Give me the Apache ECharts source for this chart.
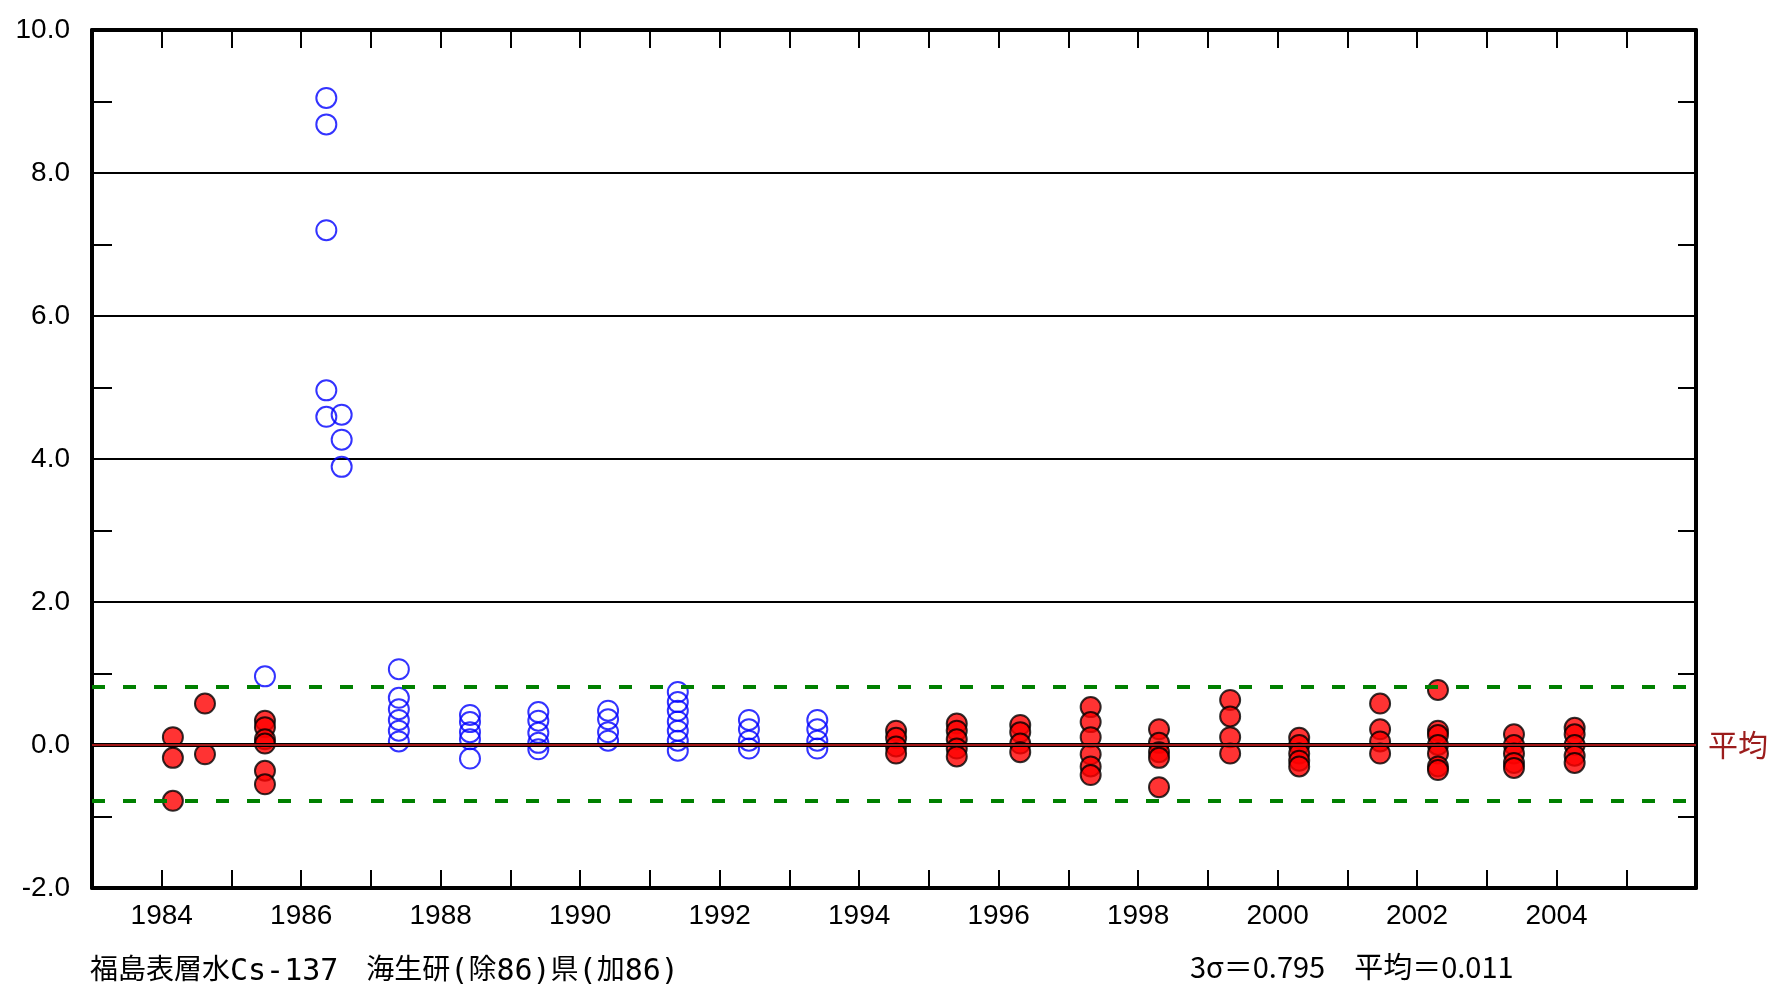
<!doctype html>
<html lang="ja">
<head>
<meta charset="UTF-8">
<title>福島表層水Cs-137</title>
<script src="https://cdn.jsdelivr.net/npm/echarts@6/dist/echarts.min.js"></script>
<style>
  html, body { margin: 0; padding: 0; background: #fff; }
  #chart { width: 1773px; height: 988px; }
</style>
</head>
<body>
<div id="chart"></div>
<script>
// 採取時期 (年) と測定値
var blueDates = [1985.48, 1986.36, 1986.58, 1987.40, 1988.42, 1989.40, 1990.40, 1991.40, 1992.42, 1993.40];
var blueValues = [
    [0.96],
    [9.05, 8.68, 7.20, 4.96, 4.59],
    [4.62, 4.27, 3.89],
    [1.06, 0.66, 0.50, 0.35, 0.20, 0.05],
    [0.42, 0.32, 0.18, 0.08, -0.19],
    [0.46, 0.34, 0.17, 0.03, -0.06],
    [0.48, 0.36, 0.18, 0.06],
    [0.74, 0.60, 0.48, 0.33, 0.20, 0.06, -0.08],
    [0.35, 0.22, 0.06, -0.05],
    [0.35, 0.22, 0.06, -0.05]
];
var redDates = [1984.16, 1984.62, 1985.48, 1994.53, 1995.40, 1996.31, 1997.32, 1998.30, 1999.32,
                2000.31, 2001.47, 2002.30, 2003.39, 2004.26];
var redValues = [
    [0.11, -0.18, -0.78],
    [0.58, -0.13],
    [0.34, 0.25, 0.08, 0.02, -0.36, -0.55],
    [0.20, 0.10, -0.02, -0.12],
    [0.30, 0.20, 0.08, -0.05, -0.16],
    [0.28, 0.18, 0.02, -0.10],
    [0.53, 0.32, 0.11, -0.13, -0.30, -0.42],
    [0.22, 0.03, -0.10, -0.18, -0.59],
    [0.63, 0.40, 0.11, -0.12],
    [0.10, 0.00, -0.12, -0.22, -0.30],
    [0.58, 0.22, 0.05, -0.12],
    [0.77, 0.20, 0.14, 0.00, -0.12, -0.30, -0.35],
    [0.15, 0.00, -0.12, -0.25, -0.32],
    [0.24, 0.15, 0.00, -0.15, -0.25]
];
var mean = 0.011;
var sigma3 = 0.795;
var yTicks = [-2, 0, 2, 4, 6, 8, 10];

function pairs(dates, values) {
    var out = [];
    for (var i = 0; i < dates.length; i++) {
        for (var j = 0; j < values[i].length; j++) {
            out.push([dates[i], values[i][j]]);
        }
    }
    return out;
}

var numFont = "'Liberation Sans', Arial, sans-serif";
var jpFont = "'Noto Sans CJK JP', sans-serif";
var monoFont = "'DejaVu Sans Mono', 'Liberation Mono', monospace";

var chart = echarts.init(document.getElementById('chart'));
var option = {
    animation: false,
    backgroundColor: '#fff',
    grid: { left: 92, top: 30, width: 1604, height: 858 },
    xAxis: [
        {
            type: 'value', position: 'bottom', min: 1983, max: 2006, interval: 1,
            axisLine: { onZero: false, lineStyle: { color: '#000', width: 4 } },
            axisTick: { inside: true, length: 18, lineStyle: { color: '#000', width: 2 } },
            splitLine: { show: false },
            axisLabel: {
                showMinLabel: false, showMaxLabel: false, margin: 14,
                color: '#000', fontFamily: numFont, fontSize: 28,
                formatter: function (v) { return v % 2 === 0 ? String(v) : ''; }
            }
        },
        {
            type: 'value', position: 'top', min: 1983, max: 2006, interval: 1,
            axisLine: { onZero: false, lineStyle: { color: '#000', width: 4 } },
            axisTick: { inside: true, length: 18, lineStyle: { color: '#000', width: 2 } },
            splitLine: { show: false },
            axisLabel: { show: false }
        }
    ],
    yAxis: [
        {
            type: 'value', position: 'left', min: yTicks[0], max: yTicks[yTicks.length - 1], interval: 2,
            axisLine: { onZero: false, lineStyle: { color: '#000', width: 4 } },
            axisTick: { show: false, inside: true },
            minorTick: { show: true, splitNumber: 2, length: 20, lineStyle: { color: '#000', width: 2 } },
            splitLine: { show: true, lineStyle: { color: '#000', width: 2 } },
            axisLabel: {
                margin: 22, color: '#000', fontFamily: numFont, fontSize: 28,
                formatter: function (v) { return v.toFixed(1); }
            }
        },
        {
            type: 'value', position: 'right', min: yTicks[0], max: yTicks[yTicks.length - 1], interval: 2,
            axisLine: { onZero: false, lineStyle: { color: '#000', width: 4 } },
            axisTick: { show: false, inside: true },
            minorTick: { show: true, splitNumber: 2, length: 18, lineStyle: { color: '#000', width: 2 } },
            splitLine: { show: false },
            axisLabel: { show: false }
        }
    ],
    series: [
        {
            name: 'limits', type: 'line', data: [],
            markLine: {
                silent: true, symbol: 'none',
                label: { show: false },
                lineStyle: { color: '#008000', width: 4, type: [13, 18] },
                data: [{ yAxis: mean + sigma3 }, { yAxis: mean - sigma3 }]
            }
        },
        {
            name: 'zero', type: 'line', data: [],
            markLine: {
                silent: true, symbol: 'none',
                label: { show: false },
                lineStyle: { color: '#000', width: 4, type: 'solid' },
                data: [{ yAxis: 0 }]
            }
        },
        {
            name: 'mean', type: 'line', data: [],
            markLine: {
                silent: true, symbol: 'none',
                lineStyle: { color: '#a01818', width: 2, type: 'solid' },
                label: {
                    show: true, position: 'end', distance: 12, formatter: '平均',
                    color: '#9b1c1c', fontFamily: jpFont, fontSize: 30
                },
                data: [{ yAxis: mean }]
            }
        },
        {
            name: '海生研', type: 'scatter', symbol: 'circle', symbolSize: 20,
            data: pairs(blueDates, blueValues),
            itemStyle: { color: 'rgba(0,0,0,0)', borderColor: '#0000ff', borderWidth: 2 }
        },
        {
            name: '県', type: 'scatter', symbol: 'circle', symbolSize: 20,
            data: pairs(redDates, redValues),
            itemStyle: { color: '#ff0000', borderColor: '#000', borderWidth: 2 }
        }
    ],
    graphic: [
        {
            type: 'text', left: 90, top: 950,
            style: {
                text: '{j|福島表層水}{m|Cs-137}{j|　海生研}{m|(}{j|除}{m|86)}{j|県}{m|(}{j|加}{m|86)}',
                fill: '#000',
                rich: {
                    j: { fontFamily: jpFont, fontSize: 28, lineHeight: 36, verticalAlign: 'middle' },
                    m: { fontFamily: monoFont, fontSize: 30, lineHeight: 36, verticalAlign: 'middle', padding: [7, 0, 0, 0] }
                }
            }
        },
        {
            type: 'text', left: 1190, top: 952,
            style: { text: '3σ＝' + sigma3.toFixed(3) + '　平均＝' + mean.toFixed(3), fill: '#000', font: '29px ' + jpFont }
        }
    ]
};
chart.setOption(option);
</script>
</body>
</html>
